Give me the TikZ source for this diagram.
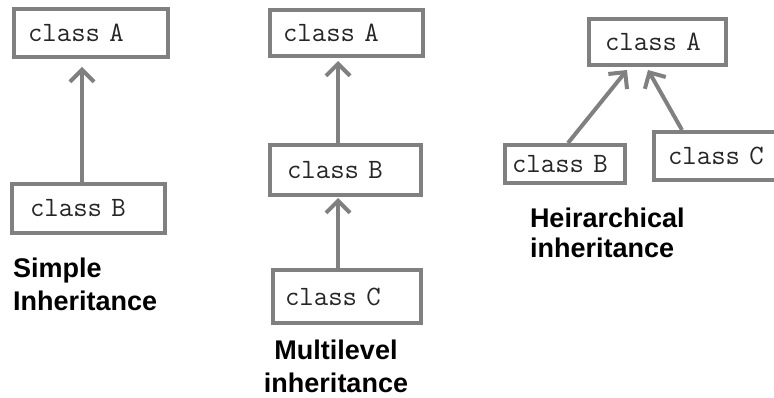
\documentclass[tikz,border=0pt]{standalone}
\usepackage{fontspec}
\usepackage{tikz}
\usetikzlibrary{arrows.meta}
\setmainfont{Liberation Sans}
\definecolor{linegray}{RGB}{128,128,128}

\begin{document}
\begin{tikzpicture}[x = 1pt, y = -1pt, line width = 4pt,
                    cls/.style = {rectangle, draw = linegray, text width = #1, inner xsep = 14pt, inner ysep = 0pt,
                                  align = left, text = black!85, font = \ttfamily\fontsize{28}{28}\selectfont},
                    title/.style = {anchor = base, inner sep = 0pt, font = \bfseries\fontsize{27}{33}\selectfont},
                    >={Straight Barb[length = 12pt, width = 24pt]}]
  \useasboundingbox (0, 0) rectangle (774, 398);

  % simple
  \node [cls = 126pt, minimum height = 48pt] (A1) at (91, 33) {class A};
  \node [cls = 117pt, inner xsep = 18pt, minimum height = 49pt] (B1) at (88.5, 208.5) {class B};

  % multilevel
  \node [cls = 127pt, inner xsep = 13pt, minimum height = 46pt] (A2) at (346.5, 33) {class A};
  \node [cls = 117pt, inner xsep = 17pt, minimum height = 50pt] (B2) at (345.5, 170) {class B};
  \node [cls = 124pt, inner xsep = 12pt, minimum height = 53pt] (C2) at (347, 296.5) {class C};

  % hierarchical
  \node [cls = 105pt, inner xsep = 16pt, minimum height = 46pt] (A3) at (657.5, 42) {class A};
  \node [cls = 106pt, inner xsep = 7pt, minimum height = 38pt] (B3) at (565, 164) {class B};
  \node [cls = 108pt, minimum height = 48pt] (C3) at (722, 156) {class C};

  \draw [->, linegray] ([xshift = -6.5pt] B1.north) -- ([xshift = -9pt, yshift = -8pt] A1.south);
  \draw [->, linegray] ([xshift = -7.5pt] B2.north) -- ([xshift = -8.5pt, yshift = -3pt] A2.south);
  \draw [->, linegray] ([xshift = -9pt] C2.north) -- ([xshift = -7.5pt, yshift = -1pt] B2.south);
  \draw [->, linegray] ([xshift = 3pt] B3.north) -- ([xshift = -30.5pt, yshift = -3pt] A3.south);
  \draw [->, linegray] ([xshift = -40pt] C3.north) -- ([xshift = -9.5pt, yshift = -3pt] A3.south);

  \node [title, anchor = base west, align = left] (L1) at (11, 310) {Simple\\Inheritance};
  \node [title, align = center] (L2) at (336, 392) {Multilevel\\inheritance};
  \node [title, anchor = base west, align = left] (L3) at (528, 258) {Heirarchical\\[-3pt]inheritance};
\end{tikzpicture}
\end{document}
